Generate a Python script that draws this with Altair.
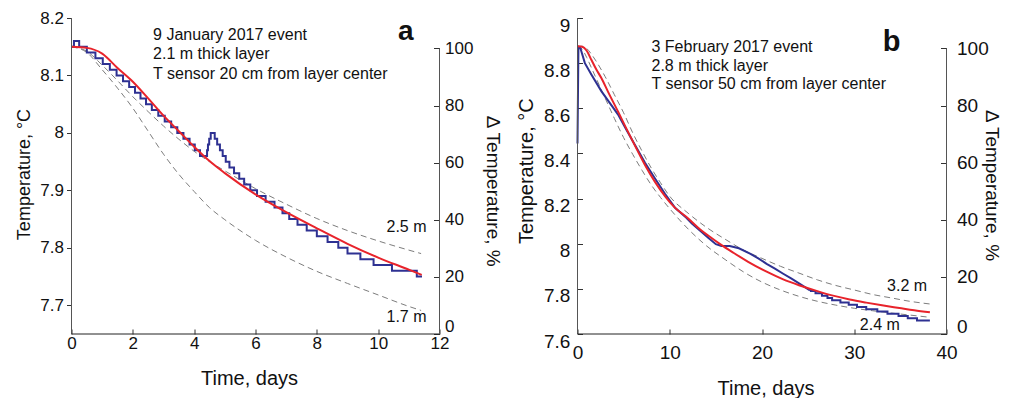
import altair as alt
import pandas as pd

FONT = "Liberation Sans"
RED = "#e8232b"
BLUE = "#2e3192"
DASH = "#7d7d7d"
AXC = "#555555"

# ---------------- panel a : 9 January 2017 event ----------------
a_notes = ["9 January 2017 event", "2.1 m thick layer", "T sensor 20 cm from layer center"]
a_model_t = [0, 0.5, 1.0, 1.5, 2.0, 2.5, 3.0, 3.5, 4.0, 4.5, 5.0, 6.0, 7.0, 8.0, 9.0, 10.0, 11.0, 11.42]
a_model_T = [8.150, 8.148, 8.138, 8.113, 8.089, 8.060, 8.030, 8.003, 7.976, 7.951, 7.930, 7.893, 7.862, 7.834, 7.807, 7.783, 7.762, 7.753]
a_dash_t = [0, 0.5, 1.0, 1.5, 2.0, 2.5, 3.0, 3.5, 4.0, 4.5, 5.0, 6.0, 7.0, 8.0, 9.0, 10.0, 11.0, 11.4]
a_dash_17 = [8.150, 8.140, 8.110, 8.078, 8.043, 8.003, 7.963, 7.928, 7.898, 7.870, 7.849, 7.813, 7.784, 7.759, 7.738, 7.718, 7.698, 7.691]
a_dash_25 = [8.150, 8.142, 8.118, 8.091, 8.063, 8.037, 8.012, 7.989, 7.968, 7.950, 7.934, 7.903, 7.876, 7.851, 7.830, 7.812, 7.796, 7.790]
a_meas_t = [0, 0.08, 0.25, 0.50, 0.78, 1.02, 1.25, 1.47, 1.68, 1.88, 2.07, 2.25, 2.43, 2.62, 2.83,
            3.04, 3.25, 3.45, 3.65, 3.85, 4.02, 4.19, 4.42, 4.45, 4.49, 4.54, 4.67, 4.75, 4.84, 4.93,
            5.03, 5.15, 5.30, 5.47, 5.63, 5.83, 6.05, 6.33, 6.62, 6.88, 7.10, 7.37, 7.67, 8.00, 8.35,
            8.70, 9.00, 9.42, 9.85, 10.45, 11.26, 11.43]
a_meas_T = [8.15, 8.16, 8.15, 8.14, 8.13, 8.12, 8.11, 8.10, 8.09, 8.08, 8.07, 8.06, 8.05, 8.04, 8.03,
            8.02, 8.01, 8.00, 7.99, 7.98, 7.97, 7.96, 7.97, 7.98, 7.99, 8.00, 7.99, 7.98, 7.97, 7.96,
            7.95, 7.94, 7.93, 7.92, 7.91, 7.90, 7.89, 7.88, 7.87, 7.86, 7.85, 7.84, 7.83, 7.82, 7.81,
            7.80, 7.79, 7.78, 7.77, 7.76, 7.75, 7.75]
a_xticks = [0, 2, 4, 6, 8, 10, 12]
a_yticks = [7.7, 7.8, 7.9, 8.0, 8.1, 8.2]

# ---------------- panel b : 3 February 2017 event ----------------
b_notes = ["3 February 2017 event", "2.8 m thick layer", "T sensor 50 cm from layer center"]
b_model_t = [0, 0.5, 1.0, 1.5, 2.0, 2.6, 3.3, 4.4, 5.3, 6.2, 7.3, 8.4, 9.5, 10.5, 12.0, 13.3, 14.2,
             15.5, 16.9, 18.5, 20.5, 22.3, 24.1, 26.0, 27.7, 29.5, 31.3, 33.0, 34.9, 36.5, 38.2]
b_model_T = [8.875, 8.873, 8.855, 8.815, 8.775, 8.733, 8.674, 8.585, 8.51, 8.437, 8.35, 8.274, 8.21,
             8.162, 8.112, 8.063, 8.035, 7.997, 7.960, 7.920, 7.876, 7.842, 7.815, 7.790, 7.770,
             7.753, 7.739, 7.727, 7.715, 7.705, 7.696]
b_dash_t = [0, 0.5, 1, 1.5, 2, 3, 4, 5, 6, 7, 8, 9, 10, 12, 14, 16, 18, 20, 22, 24, 26, 28, 30, 32, 34, 36, 38.2]
b_dash_32 = [8.875, 8.875, 8.865, 8.84, 8.81, 8.74, 8.66, 8.58, 8.49, 8.41, 8.335, 8.27, 8.21, 8.135,
             8.072, 8.02, 7.972, 7.935, 7.90, 7.87, 7.84, 7.815, 7.795, 7.775, 7.76, 7.745, 7.733]
b_dash_24 = [8.875, 8.862, 8.825, 8.78, 8.735, 8.645, 8.555, 8.47, 8.395, 8.325, 8.26, 8.205, 8.155,
             8.065, 7.99, 7.93, 7.875, 7.83, 7.795, 7.767, 7.745, 7.728, 7.714, 7.703, 7.693, 7.684, 7.674]
b_meas_t = [0, 0.1, 0.3, 0.8, 1.5, 2.6, 3.3, 4.4, 5.3, 6.2, 7.3, 8.4, 9.5, 10.6, 11.8, 12.4, 13.3,
            14.2, 15.0, 15.6, 16.5, 17.5, 18.7, 19.6, 20.5, 21.4, 22.3, 23.2, 24.1, 25.2]
b_meas_T = [8.444, 8.872, 8.868, 8.80, 8.75, 8.675, 8.635, 8.572, 8.505, 8.44, 8.36, 8.289, 8.22,
            8.158, 8.115, 8.09, 8.058, 8.025, 7.998, 7.99, 7.99, 7.98, 7.956, 7.935, 7.911, 7.89,
            7.867, 7.845, 7.822, 7.793]
b_step_t = [25.2, 25.8, 26.5, 27.1, 27.6, 28.5, 29.4, 30.3, 31.3, 32.5, 33.6, 34.8, 35.8, 36.8, 38.2]
b_step_T = [7.79, 7.78, 7.77, 7.76, 7.75, 7.74, 7.73, 7.72, 7.71, 7.70, 7.69, 7.68, 7.67, 7.66, 7.66]
b_xticks = [0, 10, 20, 30, 40]
b_yticks = [7.6, 7.8, 8.0, 8.2, 8.4, 8.6, 8.8, 9.0]

pct_ticks = [0, 20, 40, 60, 80, 100]

W_A, W_B, H = 368, 369, 316


def series(t, T):
    return pd.DataFrame({"t": t, "T": T})


def dashed(t, s1, s2, n1, n2):
    return pd.concat([
        pd.DataFrame({"t": t, "T": s1, "s": n1}),
        pd.DataFrame({"t": t, "T": s2, "s": n2}),
    ])


one = pd.DataFrame({"k": [0]})


def panel(xs, ys, xaxis, yaxis, raxis, rmax, xmax, ymin, ymax,
          dash_df, meas_layers, model_df, texts):
    base_x = alt.X("t:Q", scale=xs, axis=xaxis)
    base_y = alt.Y("T:Q", scale=ys, axis=yaxis)
    dl = alt.Chart(dash_df).mark_line(
        color=DASH, strokeWidth=1, strokeDash=[6, 4], interpolate="monotone"
    ).encode(x=base_x, y=base_y, detail="s:N")
    layers = [dl]
    for df, interp in meas_layers:
        layers.append(alt.Chart(df).mark_line(color=BLUE, strokeWidth=2, interpolate=interp)
                      .encode(x="t:Q", y="T:Q"))
    layers.append(alt.Chart(model_df).mark_line(color=RED, strokeWidth=2, interpolate="monotone")
                  .encode(x="t:Q", y="T:Q"))
    layers.append(alt.Chart(one).mark_rule(color=AXC, strokeWidth=1)
                  .encode(x=alt.XDatum(0), y=alt.YDatum(ymin), y2=alt.Y2Datum(ymax)))
    layers.append(alt.Chart(one).mark_rule(color="#222222", strokeWidth=1)
                  .encode(x=alt.XDatum(0), x2=alt.X2Datum(xmax), y=alt.YDatum(ymin)))
    for kw, px, py in texts:
        layers.append(alt.Chart(one).mark_text(font=FONT, color="#111111", **kw)
                      .encode(x=alt.value(px), y=alt.value(py)))
    left = alt.layer(*layers)
    rdf = pd.DataFrame({"lo": [0], "hi": [100]})
    right = alt.Chart(rdf).mark_rule(color=AXC, strokeWidth=1).encode(
        x=alt.XDatum(xmax),
        y=alt.Y("lo:Q", scale=alt.Scale(domain=[0, rmax], nice=False, zero=False), axis=raxis),
        y2="hi:Q",
    )
    return alt.layer(left, right).resolve_scale(y="independent")


common_lab = dict(labelFont=FONT, labelColor="#111111", titleFont=FONT, titleColor="#111111",
                  titleFontWeight="normal", grid=False, domain=False, tickColor="#333333",
                  labelFlush=False, titleAlign="center", titleBaseline="alphabetic")

zero_up = {"condition": {"test": "datum.value === 0", "value": -8}, "value": 0}

# ---- panel a axes
a_x = alt.Axis(values=a_xticks, format="d", offset=-5, tickSize=5, labelFontSize=17, labelPadding=1,
               title="Time, days", titleFontSize=20, titleX=177.5, titleY=55, **common_lab)
a_y = alt.Axis(values=a_yticks, format=".1~f", tickSize=5, labelFontSize=17, labelPadding=3,
               title="Temperature, °C", titleFontSize=18, titleX=-42.5, titleY=156, titleAngle=270,
               **common_lab)
a_r = alt.Axis(orient="right", values=pct_ticks, format="d", offset=-6, tickSize=6, labelFontSize=17,
               labelPadding=5, labelOffset=zero_up, title="Δ Temperature, %", titleFontSize=19,
               titleX=53, titleY=172.7, titleAngle=90, **common_lab)
a_texts = [
    (dict(text=a_notes, fontSize=16, align="left", baseline="alphabetic", lineHeight=19.5), 81.6, 21.7),
    (dict(text="a", fontSize=28, fontWeight="bold", align="center", baseline="alphabetic"), 334.3, 22),
    (dict(text="2.5 m", fontSize=16, align="right", baseline="alphabetic"), 355, 214.4),
    (dict(text="1.7 m", fontSize=16, align="right", baseline="alphabetic"), 355, 304.4),
]
panel_a = panel(
    alt.Scale(domain=[0, 12], nice=False, zero=False),
    alt.Scale(domain=[7.65, 8.2], nice=False, zero=False),
    a_x, a_y, a_r, 110.64, 12, 7.65, 8.2,
    dashed(a_dash_t, a_dash_17, a_dash_25, "1.7 m", "2.5 m"),
    [(series(a_meas_t, a_meas_T), "step-after")],
    series(a_model_t, a_model_T),
    a_texts,
).properties(width=W_A, height=H)

# ---- panel b axes
b_x = alt.Axis(values=b_xticks, format="d", offset=-5, tickSize=5, labelFontSize=19, labelPadding=9,
               title="Time, days", titleFontSize=20, titleX=188, titleY=65, **common_lab)
b_y = alt.Axis(values=b_yticks, format=".1~f", offset=-5, tickSize=5, labelFontSize=19, labelPadding=7.7,
               labelOffset=7, title="Temperature, °C", titleFontSize=20, titleX=-50, titleY=152.7,
               titleAngle=270, **common_lab)
b_r = alt.Axis(orient="right", values=pct_ticks, format="d", offset=-6, tickSize=6, labelFontSize=19,
               labelPadding=10, labelOffset=zero_up, title="Δ Temperature, %", titleFontSize=19,
               titleX=45, titleY=167, titleAngle=90, **common_lab)
b_texts = [
    (dict(text=b_notes, fontSize=16, align="left", baseline="alphabetic", lineHeight=18.3), 74, 34.4),
    (dict(text="b", fontSize=29, fontWeight="bold", align="center", baseline="alphabetic"), 314, 32.7),
    (dict(text="3.2 m", fontSize=16, align="right", baseline="alphabetic"), 349.6, 272.7),
    (dict(text="2.4 m", fontSize=16, align="right", baseline="alphabetic"), 322.3, 312),
]
panel_b = panel(
    alt.Scale(domain=[0, 40], nice=False, zero=False),
    alt.Scale(domain=[7.6, 9.0], nice=False, zero=False),
    b_x, b_y, b_r, 110.64, 40, 7.6, 9.0,
    dashed(b_dash_t, b_dash_24, b_dash_32, "2.4 m", "3.2 m"),
    [(series(b_meas_t, b_meas_T), "linear"), (series(b_step_t, b_step_T), "step-after")],
    series(b_model_t, b_model_T),
    b_texts,
).properties(width=W_B, height=H)

chart = alt.hconcat(panel_a, panel_b, spacing=138, bounds="flush").properties(
    padding={"left": 6.5, "top": 1, "right": 1, "bottom": 0},
    background="white",
).configure_view(stroke=None)

chart.save("out.html", embed_options={"renderer": "svg", "actions": False})
